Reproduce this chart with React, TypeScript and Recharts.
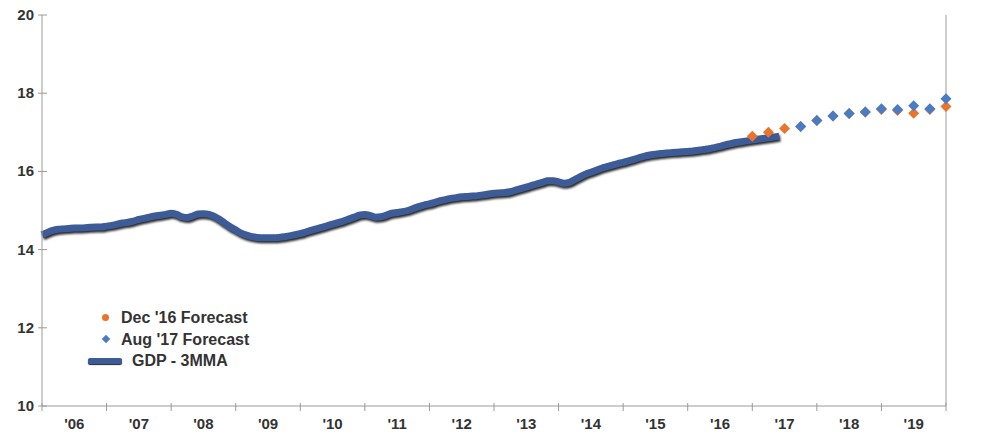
import React from 'react';
import { ComposedChart, Line, Scatter, XAxis, YAxis } from 'recharts';

// GDP 3-month moving average, monthly from Jan 2006 to Jun 2017
const gdpMonthly = [
  14.38, 14.44, 14.49, 14.52, 14.53, 14.54, 14.55, 14.55, 14.56, 14.57, 14.58, 14.58,
  14.6, 14.62, 14.65, 14.68, 14.7, 14.73, 14.77, 14.8, 14.83, 14.86, 14.88, 14.9,
  14.93, 14.9, 14.84, 14.82, 14.86, 14.91, 14.92, 14.9, 14.85, 14.77, 14.67, 14.58,
  14.5, 14.42, 14.37, 14.33, 14.31, 14.3, 14.3, 14.3, 14.31, 14.33, 14.35, 14.38,
  14.41, 14.45, 14.49, 14.53, 14.57, 14.61, 14.65, 14.69, 14.73, 14.78, 14.83, 14.88,
  14.9, 14.87, 14.83, 14.84, 14.88, 14.93, 14.95, 14.97, 15.0, 15.05, 15.1, 15.14,
  15.17, 15.21, 15.25, 15.28, 15.31, 15.33, 15.35, 15.36, 15.37, 15.38, 15.4, 15.42,
  15.44, 15.45, 15.46, 15.48, 15.52, 15.56, 15.6, 15.64, 15.68, 15.72, 15.76, 15.76,
  15.73, 15.7, 15.72, 15.79, 15.86, 15.93, 15.98, 16.03, 16.08, 16.12, 16.16, 16.2,
  16.23, 16.27, 16.31, 16.35, 16.39, 16.42, 16.44, 16.46, 16.47, 16.48, 16.49, 16.5,
  16.51, 16.52, 16.54, 16.56, 16.58, 16.61, 16.64, 16.68, 16.71, 16.74, 16.76, 16.78,
  16.8, 16.82, 16.84, 16.86, 16.88, 16.9,
];

// quarter-end positions (decimal years) for the forecasts
const decQuarters = [2017.0, 2017.25, 2017.5, 2017.75, 2018.0, 2018.25, 2018.5, 2018.75, 2019.0, 2019.25, 2019.5, 2019.75, 2020.0];
const decForecast = [16.9, 17.0, 17.1, 17.15, 17.3, 17.42, 17.48, 17.52, 17.58, 17.56, 17.49, 17.58, 17.66];

const augQuarters = [2017.75, 2018.0, 2018.25, 2018.5, 2018.75, 2019.0, 2019.25, 2019.5, 2019.75, 2020.0];
const augForecast = [17.15, 17.3, 17.42, 17.48, 17.52, 17.6, 17.58, 17.68, 17.6, 17.86];

const yearTicks = [2006, 2007, 2008, 2009, 2010, 2011, 2012, 2013, 2014, 2015, 2016, 2017, 2018, 2019, 2020];
const valueTicks = [10, 12, 14, 16, 18, 20];

const gdpData = gdpMonthly.map((v, i) => ({ t: 2006 + i / 12, v }));
const decData = decQuarters.map((t, i) => ({ t, v: decForecast[i] }));
const augData = augQuarters.map((t, i) => ({ t, v: augForecast[i] }));

const LINE_BLUE = '#3d5b97';
const DOT_BLUE = '#4a7cc4';
const ORANGE = '#e9742c';
const TEXT = '#333333';
const AXIS = '#9a9a9a';
const FONT = 'Arial, "Liberation Sans", sans-serif';

const Diamond = (props: any) => {
  const { cx, cy, fill } = props;
  if (cx == null || cy == null) return null;
  const r = 5.5;
  return <path d={`M${cx},${cy - r}L${cx + r},${cy}L${cx},${cy + r}L${cx - r},${cy}Z`} fill={fill} />;
};

const YearTick = (props: any) => {
  const { x, y, payload } = props;
  const yr = payload.value as number;
  return (
    <g>
      <line x1={x} x2={x} y1={y - 3} y2={y + 5} stroke={AXIS} />
      {yr < 2020 && (
        <text x={x + 32.3} y={y + 23} textAnchor="middle" fill={TEXT} fontSize={15} fontWeight="bold" fontFamily={FONT}>
          {"'" + String(yr).slice(2)}
        </text>
      )}
    </g>
  );
};

const LeftTick = (props: any) => {
  const { x, y, payload } = props;
  return (
    <g>
      <line x1={x - 4} x2={x + 5} y1={y} y2={y} stroke={AXIS} />
      <text x={x - 8} y={y + 5} textAnchor="end" fill={TEXT} fontSize={15} fontWeight="bold" fontFamily={FONT}>
        {payload.value}
      </text>
    </g>
  );
};

const RightTick = (props: any) => {
  const { x, y, payload } = props;
  return (
    <g>
      <line x1={x - 5} x2={x + 5} y1={y} y2={y} stroke={AXIS} />
      <text x={x + 12} y={y + 5} textAnchor="start" fill={TEXT} fontSize={15} fontWeight="bold" fontFamily={FONT}>
        {payload.value}
      </text>
    </g>
  );
};

const LegendBox = () => (
  <div
    style={{
      position: 'absolute', left: 82, top: 307,
      fontFamily: FONT, fontSize: 16, fontWeight: 'bold', color: TEXT, lineHeight: '21.5px',
    }}
  >
    <div style={{ display: 'flex', alignItems: 'center' }}>
      <span style={{ width: 7, height: 7, borderRadius: 4, background: ORANGE, marginLeft: 20, marginRight: 12 }} />
      Dec '16 Forecast
    </div>
    <div style={{ display: 'flex', alignItems: 'center' }}>
      <span style={{ width: 6, height: 6, background: DOT_BLUE, transform: 'rotate(45deg)', marginLeft: 21, marginRight: 12 }} />
      Aug '17 Forecast
    </div>
    <div style={{ display: 'flex', alignItems: 'center' }}>
      <span style={{ width: 34, height: 6, background: LINE_BLUE, borderRadius: 2, boxShadow: '0 1px 1px #222', marginLeft: 6, marginRight: 10 }} />
      GDP - 3MMA
    </div>
  </div>
);

export default function App() {
  return (
    <div style={{ position: 'absolute', left: 0, top: 0, width: 985, height: 434, background: '#fff' }}>
      <style>{`.gdp-line .recharts-line-curve { filter: drop-shadow(1px 2px 1px rgba(0,0,0,0.85)); }`}</style>
      <ComposedChart width={985} height={434} margin={{ top: 15, right: 0, bottom: 0, left: 0 }}>
        <XAxis
          type="number"
          dataKey="t"
          domain={[2006, 2020]}
          ticks={yearTicks}
          interval={0}
          height={28}
          tickSize={0}
          tickMargin={0}
          tick={<YearTick />}
          axisLine={{ stroke: AXIS }}
          tickLine={false}
          allowDuplicatedCategory={false}
        />
        <YAxis
          yAxisId="left"
          domain={[10, 20]}
          ticks={valueTicks}
          width={42}
          tickSize={0}
          tickMargin={0}
          tick={<LeftTick />}
          axisLine={{ stroke: AXIS }}
          tickLine={false}
        />
        <YAxis
          yAxisId="right"
          orientation="right"
          domain={[10, 20]}
          ticks={valueTicks}
          width={39}
          tickSize={0}
          tickMargin={0}
          tick={<RightTick />}
          axisLine={{ stroke: AXIS }}
          tickLine={false}
        />
        <Scatter yAxisId="left" data={decData} dataKey="v" fill={ORANGE} shape={<Diamond />} isAnimationActive={false} />
        <Line
          yAxisId="left"
          className="gdp-line"
          data={gdpData}
          dataKey="v"
          type="monotone"
          stroke={LINE_BLUE}
          strokeWidth={7}
          dot={false}
          isAnimationActive={false}
        />
        <Scatter yAxisId="left" data={augData} dataKey="v" fill={DOT_BLUE} shape={<Diamond />} isAnimationActive={false} />
      </ComposedChart>
      <LegendBox />
    </div>
  );
}
